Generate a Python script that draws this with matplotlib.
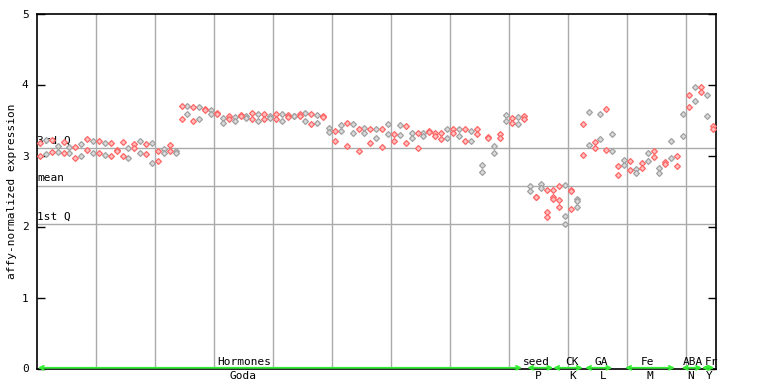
import matplotlib
matplotlib.use("Agg")
import matplotlib.pyplot as plt
import numpy as np

# ---- data: each sample index has 2-3 replicate values ----
values = [
    [3.17, 2.99], [3.22, 3.02], [3.22, 3.05], [3.14, 3.05], [3.19, 3.03],
    [3.12, 3.03], [3.12, 2.97], [3.16, 2.99], [3.23, 3.08], [3.21, 3.04],
    [3.21, 3.04], [3.18, 3.01], [3.18, 3.00], [3.08, 3.07], [3.19, 2.99],
    [3.11, 2.96], [3.16, 3.10], [3.21, 3.04], [3.16, 3.02], [3.18, 2.90],
    [3.06, 2.92], [3.09, 3.04], [3.15, 3.07], [3.07, 3.04], [3.70, 3.52],
    [3.70, 3.58], [3.68, 3.48], [3.68, 3.52], [3.65, 3.64], [3.64, 3.58],
    [3.60, 3.58], [3.53, 3.46], [3.56, 3.51], [3.54, 3.48], [3.57, 3.56],
    [3.55, 3.53], [3.60, 3.52], [3.59, 3.49], [3.59, 3.52], [3.55, 3.53],
    [3.59, 3.51], [3.58, 3.49], [3.57, 3.54], [3.55, 3.56], [3.59, 3.55],
    [3.60, 3.49], [3.58, 3.44], [3.57, 3.46], [3.55, 3.54], [3.39, 3.33],
    [3.34, 3.20], [3.43, 3.35], [3.46, 3.14], [3.44, 3.32], [3.37, 3.07],
    [3.39, 3.31], [3.38, 3.17], [3.37, 3.24], [3.38, 3.12], [3.44, 3.30],
    [3.30, 3.20], [3.43, 3.29], [3.41, 3.17], [3.32, 3.25], [3.31, 3.10],
    [3.31, 3.28], [3.34, 3.33], [3.31, 3.27], [3.31, 3.23], [3.37, 3.25],
    [3.38, 3.31], [3.37, 3.28], [3.37, 3.21], [3.34, 3.20], [3.38, 3.30],
    [2.86, 2.77], [3.26, 3.24], [3.14, 3.04], [3.30, 3.24], [3.57, 3.48],
    [3.53, 3.46], [3.54, 3.45], [3.56, 3.52], [2.57, 2.50], [2.42, 2.41],
    [2.60, 2.54], [2.52, 2.21, 2.13], [2.51, 2.42, 2.39], [2.57, 2.38, 2.28],
    [2.59, 2.15, 2.03], [2.51, 2.50, 2.24], [2.39, 2.36, 2.27], [3.45, 3.01],
    [3.61, 3.15], [3.19, 3.11], [3.59, 3.23], [3.65, 3.08], [3.30, 3.06],
    [2.85, 2.73], [2.94, 2.86], [2.92, 2.79], [2.81, 2.75], [2.90, 2.82],
    [3.03, 2.92], [3.06, 2.98], [2.83, 2.76], [2.91, 2.88], [3.21, 2.97],
    [3.00, 2.85], [3.58, 3.27], [3.85, 3.68], [3.96, 3.77], [3.97, 3.90],
    [3.85, 3.55], [3.41, 3.37],
]
red_extra = [13, 67, 87]
grey_extra = [75]

q3_value = 3.10
mean_value = 2.57
q1_value = 2.03

group_top = ["Hormones", "seed", "CK", "GA", "Fe", "ABA", "Fr"]
group_bottom = ["Goda", "P", "K", "L", "M", "N", "Y"]
group_spans = [(-0.35, 81.7), (82.6, 87.0), (87.0, 92.0), (92.4, 97.0),
               (99.2, 107.6), (108.8, 112.2), (112.2, 114.3)]
top_label_pos = [34.7, 84.2, 90.2, 95.1, 103.0, 110.7, 113.9]
bottom_label_pos = [34.4, 84.4, 90.3, 95.4, 103.4, 110.3, 113.4]

mono = "DejaVu Sans Mono"
fig = plt.figure(figsize=(7.68, 3.84), dpi=100)
ax = fig.add_axes([37 / 768, 15.5 / 384, 678.5 / 768, 355 / 384])
ax.set_xlim(-0.5, 114.5)
ax.set_ylim(0, 5)

# grid
for g in np.arange(9.5, 114, 10):
    ax.axvline(g, color="#aaaaaa", lw=1, zorder=1)
for q, lab in [(q3_value, "3rd Q"), (mean_value, "mean"), (q1_value, "1st Q")]:
    ax.axhline(q, color="#aaaaaa", lw=1, zorder=1)
    ax.text(-0.45, q + 0.04, lab, fontsize=8, family=mono, va="bottom",
            ha="left", zorder=2)

# points
for i, vals in enumerate(values):
    red = (i % 2 == 0 or i in red_extra) and i not in grey_extra
    ec = "#ff6666" if red else "#a0a0a0"
    fc = "#ffc0c0" if red else "#dadada"
    ax.plot([i] * len(vals), vals, ls="none", marker="D", ms=3.0, mew=0.9,
            mec=ec, mfc=fc, zorder=4 if red else 3)

# group arrows and labels
for (s, e) in group_spans:
    ax.annotate("", xy=(e, 0.01), xytext=(s, 0.01),
                arrowprops=dict(arrowstyle="<->", color="#33ee33", lw=1.3,
                                mutation_scale=7, shrinkA=0, shrinkB=0),
                annotation_clip=False, zorder=5)
for lab, x in zip(group_top, top_label_pos):
    ax.text(x, 0.09, lab, fontsize=8, family=mono, ha="center", va="center",
            zorder=6)
for lab, x in zip(group_bottom, bottom_label_pos):
    ax.text(x, -0.11, lab, fontsize=8, family=mono, ha="center", va="center",
            clip_on=False)

# axes styling
for sp in ax.spines.values():
    sp.set_color("black")
    sp.set_linewidth(1.2)
ax.set_yticks([0, 1, 2, 3, 4, 5])
ax.set_xticks([])
ax.tick_params(axis="y", direction="in", length=6, width=1, right=True,
               labelsize=8, pad=6)
for t in ax.get_yticklabels():
    t.set_family(mono)
fig.text(12 / 768, 1 - 191 / 384, "affy-normalized expression", rotation=90,
         fontsize=8, family=mono, ha="center", va="center")

fig.savefig("out.png", dpi=100)
